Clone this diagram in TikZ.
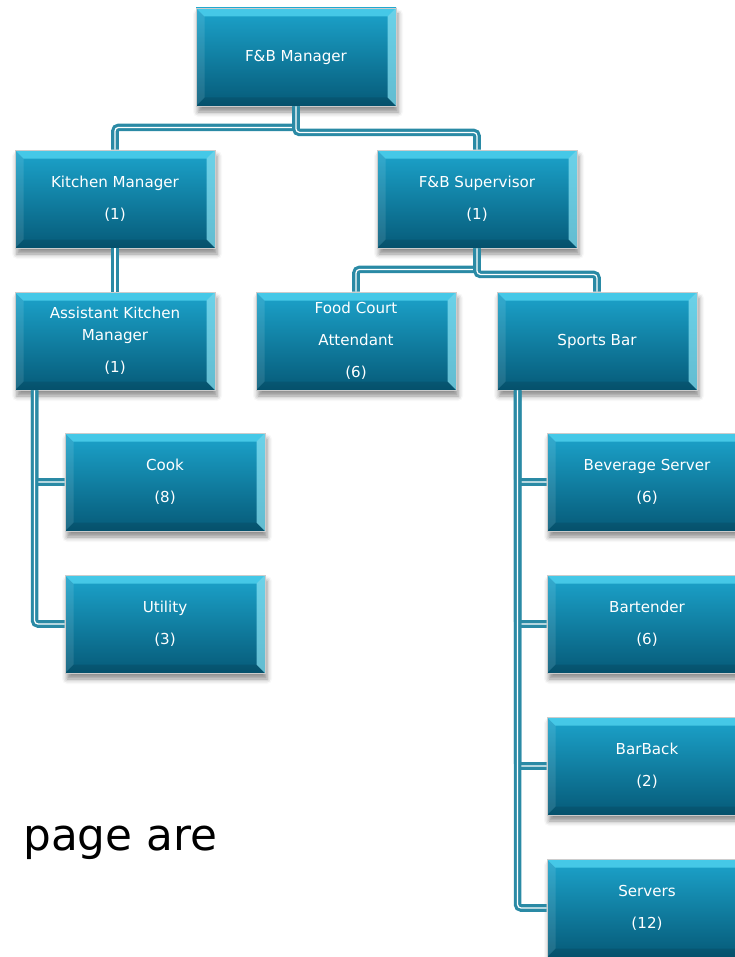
\documentclass[tikz,border=0pt]{standalone}
\usepackage{fontspec}
\usepackage{tikz}
\usetikzlibrary{shadows.blur}
\newfontfamily\boxfont{DejaVu Sans}

\definecolor{boxtop}{RGB}{28,164,204}
\definecolor{boxmid}{RGB}{12,130,167}
\definecolor{boxbot}{RGB}{6,90,120}
\definecolor{bevtop}{RGB}{84,214,242}
\definecolor{bevright}{RGB}{140,230,246}
\definecolor{linkteal}{RGB}{42,138,165}
\newcommand{\bevw}{0.17cm}

\begin{document}
\begin{tikzpicture}[
    orgbox/.style={rectangle, minimum width=4cm, minimum height=1.96cm,
        draw=gray!40, line width=0.5pt, text=white, align=center,
        font=\boxfont\fontsize{8.6}{18.2}\selectfont,
        top color=boxtop, middle color=boxmid, bottom color=boxbot,
        blur shadow={shadow xshift=0.4mm, shadow yshift=-1.2mm, shadow blur radius=1mm, shadow opacity=45},
        path picture={
            \coordinate (bbnw) at (path picture bounding box.north west);
            \coordinate (bbne) at (path picture bounding box.north east);
            \coordinate (bbsw) at (path picture bounding box.south west);
            \coordinate (bbse) at (path picture bounding box.south east);
            \fill[bevtop, opacity=0.75] (bbnw) -- (bbne) -- ([shift={(-\bevw,-\bevw)}]bbne) -- ([shift={(\bevw,-\bevw)}]bbnw) -- cycle;
            \fill[bevright, opacity=0.7] (bbne) -- (bbse) -- ([shift={(-\bevw,\bevw)}]bbse) -- ([shift={(-\bevw,-\bevw)}]bbne) -- cycle;
            \fill[black, opacity=0.1] (bbse) -- (bbsw) -- ([shift={(\bevw,\bevw)}]bbsw) -- ([shift={(-\bevw,\bevw)}]bbse) -- cycle;
            \fill[white, opacity=0.1] (bbsw) -- (bbnw) -- ([shift={(\bevw,-\bevw)}]bbnw) -- ([shift={(\bevw,\bevw)}]bbsw) -- cycle;
        }},
    link/.style={draw=linkteal, line width=1.8pt, double=white, double distance=0.7pt, rounded corners=2pt}
]
    \useasboundingbox (0,0) rectangle (14.68,-19.14);

    % Top level
    \node[orgbox] (mgr) at (5.92,-1.14) {F\&B Manager};

    % Second level
    \node[orgbox] (km) at (2.30,-3.98) {Kitchen Manager\\(1)};
    \node[orgbox] (sup) at (9.54,-3.98) {F\&B Supervisor\\(1)};

    % Third level
    \node[orgbox] (akm) at (2.30,-6.82) {Assistant Kitchen\\[-5.7pt]Manager\\(1)};
    \node[orgbox] (fca) at (7.12,-6.82) {Food Court\\Attendant\\(6)};
    \node[orgbox] (sb) at (11.94,-6.82) {Sports Bar};

    % Kitchen staff
    \node[orgbox] (cook) at (3.30,-9.64) {Cook\\(8)};
    \node[orgbox] (util) at (3.30,-12.48) {Utility\\(3)};

    % Sports bar staff
    \node[orgbox] (bev) at (12.94,-9.64) {Beverage Server\\(6)};
    \node[orgbox] (bart) at (12.94,-12.48) {Bartender\\(6)};
    \node[orgbox] (barb) at (12.94,-15.32) {BarBack\\(2)};
    \node[orgbox] (serv) at (12.94,-18.16) {Servers\\(12)};

    % Slide text
    \node[anchor=base west, inner sep=0pt, font=\boxfont\fontsize{24.9}{30}\selectfont] (pagetext) at (0.46,-17.0) {page are};

    % Connectors
    \draw[link] (mgr.south) -- ++(0,-0.42) -| (km.north);
    \draw[link] (mgr.south) -- ++(0,-0.52) -| (sup.north);
    \draw[link] (km.south) -- (akm.north);
    \draw[link] (sup.south) -- ++(0,-0.42) -| (fca.north);
    \draw[link] (sup.south) -- ++(0,-0.52) -| (sb.north);

    \foreach \c in {cook,util}
        \draw[link] ([xshift=0.4cm]akm.south west) |- (\c.west);

    \foreach \c in {bev,bart,barb,serv}
        \draw[link] ([xshift=0.42cm]sb.south west) |- (\c.west);

\end{tikzpicture}
\end{document}
